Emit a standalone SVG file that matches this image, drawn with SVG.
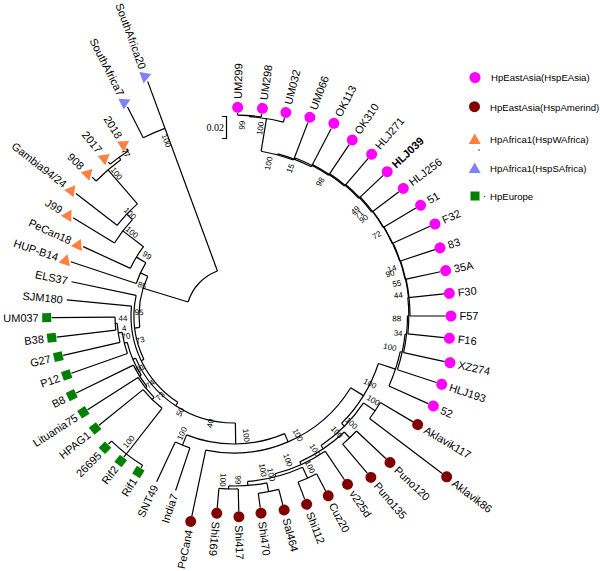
<svg xmlns="http://www.w3.org/2000/svg" xmlns:xlink="http://www.w3.org/1999/xlink" width="600" height="571" viewBox="0 0 600 571">
<style>
.t path,.t circle{fill:none;stroke:#000;stroke-width:1.2}
.lab{font-family:"Liberation Sans",Arial,sans-serif;font-size:11px;fill:#000}
.lg{font-family:"Liberation Sans",Arial,sans-serif;font-size:9.6px;fill:#000}
.bs{font-family:"Liberation Sans",Arial,sans-serif;font-size:8px;fill:#000;text-anchor:middle}
.ea{fill:#FF00FF}.am{fill:#800000}.wa{fill:#FF8040}.sa{fill:#8080FF}.eu{fill:#008000}
</style>
<defs>
<path id="tri" d="M0 -6L6 4.5H-6Z"/>
<rect id="sq" x="-4.5" y="-4.5" width="9" height="9"/>
</defs>
<rect width="600" height="571" fill="#fff"/>
<g transform="translate(234 316)">
<g id="connectors" class="t">
<circle r="48" pathLength="360" stroke-dasharray="52.8 360" transform="rotate(197)"/>
<path d="M48 0H95" transform="rotate(197)"/>
<path d="M48 0H200" transform="rotate(249.8)"/>
<circle r="200" pathLength="360" stroke-dasharray="6.8 360" transform="rotate(243)"/>
<path d="M200 0H234.5" transform="rotate(243)"/>
<path d="M200 0H250" transform="rotate(249.8)"/>
<circle r="196" pathLength="360" stroke-dasharray="6.6 360" transform="rotate(230.8)"/>
<path d="M196 0H198.7" transform="rotate(230.8)"/>
<path d="M196 0H198.5" transform="rotate(237.4)"/>
<circle r="193" pathLength="360" stroke-dasharray="9.7 360" transform="rotate(224.4)"/>
<path d="M193 0H196" transform="rotate(234.1)"/>
<path d="M193 0H198.5" transform="rotate(224.4)"/>
<circle r="148" pathLength="360" stroke-dasharray="11.45 360" transform="rotate(217.8)"/>
<path d="M148 0H193" transform="rotate(229.25)"/>
<path d="M148 0H200" transform="rotate(217.8)"/>
<circle r="140" pathLength="360" stroke-dasharray="12.1 360" transform="rotate(211.4)"/>
<path d="M140 0H148" transform="rotate(223.5)"/>
<path d="M140 0H188.5" transform="rotate(211.4)"/>
<circle r="114" pathLength="360" stroke-dasharray="12.75 360" transform="rotate(204.7)"/>
<path d="M114 0H140" transform="rotate(217.45)"/>
<path d="M114 0H166" transform="rotate(204.7)"/>
<circle r="103" pathLength="360" stroke-dasharray="12.7 360" transform="rotate(198.4)"/>
<path d="M103 0H114" transform="rotate(211.1)"/>
<path d="M103 0H172" transform="rotate(198.4)"/>
<circle r="95" pathLength="360" stroke-dasharray="31.66 360" transform="rotate(173.09)"/>
<path d="M95 0H103" transform="rotate(204.75)"/>
<path d="M95 0H100" transform="rotate(173.09)"/>
<circle r="100" pathLength="360" stroke-dasharray="37.63 360" transform="rotate(154.27)"/>
<path d="M100 0H166" transform="rotate(191.9)"/>
<path d="M100 0H103" transform="rotate(154.27)"/>
<circle r="103" pathLength="360" stroke-dasharray="62.47 360" transform="rotate(123.03)"/>
<path d="M103 0H168" transform="rotate(185.5)"/>
<path d="M103 0H107" transform="rotate(123.03)"/>
<circle r="107" pathLength="360" stroke-dasharray="67.55 360" transform="rotate(89.25)"/>
<path d="M107 0H110" transform="rotate(156.8)"/>
<path d="M107 0H128" transform="rotate(89.25)"/>
<circle r="110" pathLength="360" stroke-dasharray="18.67 360" transform="rotate(147.47)"/>
<path d="M110 0H112" transform="rotate(147.47)"/>
<path d="M110 0H113" transform="rotate(166.14)"/>
<circle r="112" pathLength="360" stroke-dasharray="13.06 360" transform="rotate(140.94)"/>
<path d="M112 0H114" transform="rotate(140.94)"/>
<path d="M112 0H175.5" transform="rotate(154)"/>
<circle r="114" pathLength="360" stroke-dasharray="12.92 360" transform="rotate(134.48)"/>
<path d="M114 0H117" transform="rotate(134.48)"/>
<path d="M114 0H173.8" transform="rotate(147.4)"/>
<circle r="117" pathLength="360" stroke-dasharray="13.05 360" transform="rotate(127.95)"/>
<path d="M117 0H175" transform="rotate(127.95)"/>
<path d="M117 0H173.7" transform="rotate(141)"/>
<circle r="175" pathLength="360" stroke-dasharray="12.9 360" transform="rotate(121.5)"/>
<path d="M175 0H178" transform="rotate(121.5)"/>
<path d="M175 0H179" transform="rotate(128)"/>
<path d="M175 0H179.4" transform="rotate(134.4)"/>
<circle r="113" pathLength="360" stroke-dasharray="11.08 360" transform="rotate(160.6)"/>
<path d="M113 0H172.4" transform="rotate(160.6)"/>
<path d="M113 0H117" transform="rotate(171.68)"/>
<circle r="117" pathLength="360" stroke-dasharray="9.35 360" transform="rotate(167)"/>
<path d="M117 0H175.3" transform="rotate(167)"/>
<path d="M117 0H119" transform="rotate(176.35)"/>
<circle r="119" pathLength="360" stroke-dasharray="6.3 360" transform="rotate(173.2)"/>
<path d="M119 0H178.6" transform="rotate(173.2)"/>
<path d="M119 0H182.3" transform="rotate(179.5)"/>
<circle r="128" pathLength="360" stroke-dasharray="45 360" transform="rotate(66.75)"/>
<path d="M128 0H137" transform="rotate(66.75)"/>
<path d="M128 0H139" transform="rotate(111.75)"/>
<circle r="139" pathLength="360" stroke-dasharray="6.5 360" transform="rotate(108.5)"/>
<path d="M139 0H184" transform="rotate(108.5)"/>
<path d="M139 0H183" transform="rotate(115)"/>
<circle r="137" pathLength="360" stroke-dasharray="70.31 360" transform="rotate(31.59)"/>
<path d="M137 0H152" transform="rotate(31.59)"/>
<path d="M137 0H204.5" transform="rotate(101.9)"/>
<circle r="152" pathLength="360" stroke-dasharray="26.76 360" transform="rotate(18.21)"/>
<path d="M152 0H170" transform="rotate(18.21)"/>
<path d="M152 0H156" transform="rotate(44.97)"/>
<circle r="156" pathLength="360" stroke-dasharray="22.24 360" transform="rotate(33.85)"/>
<path d="M156 0H170" transform="rotate(33.85)"/>
<path d="M156 0H160" transform="rotate(56.09)"/>
<circle r="170" pathLength="360" stroke-dasharray="6.5 360" transform="rotate(30.6)"/>
<path d="M170 0H208" transform="rotate(30.6)"/>
<path d="M170 0H261" transform="rotate(37.1)"/>
<circle r="160" pathLength="360" stroke-dasharray="19.28 360" transform="rotate(46.45)"/>
<path d="M160 0H168" transform="rotate(46.45)"/>
<path d="M160 0H163" transform="rotate(65.73)"/>
<circle r="168" pathLength="360" stroke-dasharray="6.5 360" transform="rotate(43.2)"/>
<path d="M168 0H208.5" transform="rotate(43.2)"/>
<path d="M168 0H206" transform="rotate(49.7)"/>
<circle r="163" pathLength="360" stroke-dasharray="19.47 360" transform="rotate(56)"/>
<path d="M163 0H197.5" transform="rotate(56)"/>
<path d="M163 0H166" transform="rotate(75.47)"/>
<circle r="166" pathLength="360" stroke-dasharray="19.73 360" transform="rotate(65.6)"/>
<path d="M166 0H178" transform="rotate(65.6)"/>
<path d="M166 0H170" transform="rotate(85.33)"/>
<circle r="178" pathLength="360" stroke-dasharray="6.55 360" transform="rotate(62.35)"/>
<path d="M178 0H197.5" transform="rotate(62.35)"/>
<path d="M178 0H196.3" transform="rotate(68.9)"/>
<circle r="170" pathLength="360" stroke-dasharray="12.95 360" transform="rotate(78.85)"/>
<path d="M170 0H179" transform="rotate(78.85)"/>
<path d="M170 0H173" transform="rotate(91.8)"/>
<circle r="179" pathLength="360" stroke-dasharray="6.7 360" transform="rotate(75.5)"/>
<path d="M179 0H195" transform="rotate(75.5)"/>
<path d="M179 0H193.5" transform="rotate(82.2)"/>
<circle r="173" pathLength="360" stroke-dasharray="6.4 360" transform="rotate(88.6)"/>
<path d="M173 0H195.3" transform="rotate(88.6)"/>
<path d="M173 0H192.5" transform="rotate(95)"/>
<circle r="170" pathLength="360" stroke-dasharray="12.17 360" transform="rotate(12.13)"/>
<path d="M170 0H213" transform="rotate(24.3)"/>
<path d="M170 0H172" transform="rotate(12.13)"/>
<circle r="172" pathLength="360" stroke-dasharray="12.14 360" transform="rotate(6.06)"/>
<path d="M172 0H213" transform="rotate(18.2)"/>
<path d="M172 0H173.5" transform="rotate(6.06)"/>
<circle r="173.5" pathLength="360" stroke-dasharray="12.29 360" transform="rotate(-0.09)"/>
<path d="M173.5 0H215.5" transform="rotate(12.2)"/>
<path d="M173.5 0H174.8" transform="rotate(-0.09)"/>
<circle r="174.8" pathLength="360" stroke-dasharray="11.98 360" transform="rotate(-6.08)"/>
<path d="M174.8 0H211" transform="rotate(5.9)"/>
<path d="M174.8 0H176" transform="rotate(-6.08)"/>
<circle r="176" pathLength="360" stroke-dasharray="12.16 360" transform="rotate(-12.16)"/>
<path d="M176 0H211.5"/>
<path d="M175.5 0H176" transform="rotate(-12.16)"/>
<circle r="175.5" pathLength="360" stroke-dasharray="12.32 360" transform="rotate(-18.32)"/>
<path d="M175.5 0H211" transform="rotate(-6)"/>
<path d="M175 0H175.5" transform="rotate(-18.32)"/>
<circle r="175" pathLength="360" stroke-dasharray="12.43 360" transform="rotate(-24.53)"/>
<path d="M175 0H211" transform="rotate(-12.1)"/>
<path d="M174.5 0H175" transform="rotate(-24.53)"/>
<circle r="174.5" pathLength="360" stroke-dasharray="12.46 360" transform="rotate(-30.76)"/>
<path d="M174.5 0H211.5" transform="rotate(-18.3)"/>
<path d="M174 0H174.5" transform="rotate(-30.76)"/>
<circle r="174" pathLength="360" stroke-dasharray="12.41 360" transform="rotate(-37.01)"/>
<path d="M174 0H215.5" transform="rotate(-24.6)"/>
<path d="M173.5 0H174" transform="rotate(-37.01)"/>
<circle r="173.5" pathLength="360" stroke-dasharray="12.63 360" transform="rotate(-43.33)"/>
<path d="M173.5 0H211.5" transform="rotate(-30.7)"/>
<path d="M172.5 0H173.5" transform="rotate(-43.33)"/>
<circle r="172.5" pathLength="360" stroke-dasharray="12.655 360" transform="rotate(-49.655)"/>
<path d="M172.5 0H206.5" transform="rotate(-37)"/>
<path d="M171.5 0H172.5" transform="rotate(-49.655)"/>
<circle r="171.5" pathLength="360" stroke-dasharray="12.71 360" transform="rotate(-56.01)"/>
<path d="M171.5 0H205" transform="rotate(-43.3)"/>
<path d="M170.5 0H171.5" transform="rotate(-56.01)"/>
<circle r="170.5" pathLength="360" stroke-dasharray="12.82 360" transform="rotate(-62.42)"/>
<path d="M170.5 0H207" transform="rotate(-49.6)"/>
<path d="M169.5 0H170.5" transform="rotate(-62.42)"/>
<circle r="169.5" pathLength="360" stroke-dasharray="12.64 360" transform="rotate(-68.74)"/>
<path d="M169.5 0H206.5" transform="rotate(-56.1)"/>
<path d="M168 0H169.5" transform="rotate(-68.74)"/>
<circle r="168" pathLength="360" stroke-dasharray="12.275 360" transform="rotate(-74.875)"/>
<path d="M168 0H211" transform="rotate(-62.6)"/>
<path d="M167 0H168" transform="rotate(-74.875)"/>
<circle r="167" pathLength="360" stroke-dasharray="11.55 360" transform="rotate(-80.65)"/>
<path d="M167 0H207" transform="rotate(-69.1)"/>
<path d="M167 0H200" transform="rotate(-80.65)"/>
<circle r="200" pathLength="360" stroke-dasharray="9.9 360" transform="rotate(-85.6)"/>
<path d="M200 0H204.5" transform="rotate(-75.7)"/>
<path d="M200 0H201" transform="rotate(-85.6)"/>
<circle r="201" pathLength="360" stroke-dasharray="6.8 360" transform="rotate(-89)"/>
<path d="M201 0H203" transform="rotate(-89)"/>
<path d="M201 0H204" transform="rotate(-82.2)"/>
</g>
<g id="bootstrap" class="bs">
<text transform="rotate(-87.7) translate(191)" y="3">99</text>
<text transform="rotate(-82.1) translate(189.5)" y="3">100</text>
<text transform="rotate(-77.3) translate(156.5)" y="3">100</text>
<text transform="rotate(-69.2) translate(158)" y="3">15</text>
<text transform="rotate(-57.4) translate(159.5)" y="3">98</text>
<text transform="rotate(-41.2) translate(161)" y="3">49</text>
<text transform="rotate(-39.2) translate(161)" y="3">71</text>
<text transform="rotate(-37) translate(162)" y="3">90</text>
<text transform="rotate(-29.6) translate(164)" y="3">72</text>
<text transform="rotate(-16.8) translate(164.8)" y="3">14</text>
<text transform="rotate(-15.3) translate(161.7)" y="3">90</text>
<text transform="rotate(-11.4) translate(166)" y="3">55</text>
<text transform="rotate(-7.3) translate(165.6)" y="3">44</text>
<text transform="rotate(0.8) translate(162.7)" y="3">88</text>
<text transform="rotate(5.9) translate(165)" y="3">34</text>
<text transform="rotate(11.2) translate(159)" y="3">100</text>
<text transform="rotate(26.3) translate(151.7)" y="3">100</text>
<text transform="rotate(31.1) translate(162.7)" y="3">100</text>
<text transform="rotate(42.3) translate(159)" y="3">100</text>
<text transform="rotate(48.4) translate(155)" y="3">100</text>
<text transform="rotate(58.8) translate(156.6)" y="3">100</text>
<text transform="rotate(61.7) translate(135)" y="3">100</text>
<text transform="rotate(69.4) translate(153.8)" y="3">100</text>
<text transform="rotate(63.2) translate(168.8)" y="3">100</text>
<text transform="rotate(79.3) translate(156.7)" y="3">100</text>
<text transform="rotate(76.7) translate(163)" y="3">100</text>
<text transform="rotate(84) translate(120)" y="3">100</text>
<text transform="rotate(93.7) translate(164.3)" y="3">100</text>
<text transform="rotate(88.5) translate(164)" y="3">99</text>
<text transform="rotate(102.6) translate(110) rotate(180)" y="3">40</text>
<text transform="rotate(119.4) translate(110) rotate(180)" y="3">50</text>
<text transform="rotate(114) translate(128.5) rotate(180)" y="3">100</text>
<text transform="rotate(130) translate(164) rotate(180)" y="3">100</text>
<text transform="rotate(132.8) translate(109) rotate(180)" y="3">73</text>
<text transform="rotate(141) translate(108) rotate(180)" y="3">74</text>
<text transform="rotate(151) translate(107) rotate(180)" y="3">91</text>
<text transform="rotate(165.7) translate(97) rotate(180)" y="3">73</text>
<text transform="rotate(182.4) translate(95) rotate(180)" y="3">95</text>
<text transform="rotate(169.5) translate(110) rotate(180)" y="3">70</text>
<text transform="rotate(173.8) translate(110.6) rotate(180)" y="3">4</text>
<text transform="rotate(179) translate(111) rotate(180)" y="3">44</text>
<text transform="rotate(198.6) translate(97) rotate(180)" y="3">85</text>
<text transform="rotate(215) translate(106) rotate(180)" y="3">99</text>
<text transform="rotate(219.5) translate(132) rotate(180)" y="3">100</text>
<text transform="rotate(224.7) translate(146) rotate(180)" y="3">100</text>
<text transform="rotate(230.6) translate(184.7) rotate(180)" y="3">100</text>
<text transform="rotate(236.5) translate(195.6) rotate(180)" y="3">77</text>
<text transform="rotate(249) translate(188) rotate(180)" y="3">100</text>
</g>
<g id="n-UM299"><circle class="ea" r="5.5" transform="rotate(-89) translate(208.7)"/><text class="lab" transform="rotate(-89)" x="217.2" y="4">UM299</text></g>
<g id="n-UM298"><circle class="ea" r="5.5" transform="rotate(-82.2) translate(209.6)"/><text class="lab" transform="rotate(-82.2)" x="218.1" y="4">UM298</text></g>
<g id="n-UM032"><circle class="ea" r="5.5" transform="rotate(-75.7) translate(210)"/><text class="lab" transform="rotate(-75.7)" x="218.5" y="4">UM032</text></g>
<g id="n-UM066"><circle class="ea" r="5.5" transform="rotate(-69.1) translate(212.7)"/><text class="lab" transform="rotate(-69.1)" x="221.2" y="4">UM066</text></g>
<g id="n-OK113"><circle class="ea" r="5.5" transform="rotate(-62.6) translate(217)"/><text class="lab" transform="rotate(-62.6)" x="225.5" y="4">OK113</text></g>
<g id="n-OK310"><circle class="ea" r="5.5" transform="rotate(-56.1) translate(212)"/><text class="lab" transform="rotate(-56.1)" x="220.5" y="4">OK310</text></g>
<g id="n-HLJ271"><circle class="ea" r="5.5" transform="rotate(-49.6) translate(212.4)"/><text class="lab" transform="rotate(-49.6)" x="221" y="4">HLJ271</text></g>
<g id="n-HLJ039"><circle class="ea" r="5.5" transform="rotate(-43.3) translate(210.5)"/><text class="lab" transform="rotate(-43.3)" x="219" y="4" font-weight="bold">HLJ039</text></g>
<g id="n-HLJ256"><circle class="ea" r="5.5" transform="rotate(-37) translate(212)"/><text class="lab" transform="rotate(-37)" x="220.5" y="4">HLJ256</text></g>
<g id="n-51"><circle class="ea" r="5.5" transform="rotate(-30.7) translate(217)"/><text class="lab" transform="rotate(-30.7)" x="225.5" y="4">51</text></g>
<g id="n-F32"><circle class="ea" r="5.5" transform="rotate(-24.6) translate(221)"/><text class="lab" transform="rotate(-24.6)" x="229.5" y="4">F32</text></g>
<g id="n-83"><circle class="ea" r="5.5" transform="rotate(-18.3) translate(217)"/><text class="lab" transform="rotate(-18.3)" x="225.5" y="4">83</text></g>
<g id="n-35A"><circle class="ea" r="5.5" transform="rotate(-12.1) translate(216.5)"/><text class="lab" transform="rotate(-12.1)" x="225" y="4">35A</text></g>
<g id="n-F30"><circle class="ea" r="5.5" transform="rotate(-6) translate(216.5)"/><text class="lab" transform="rotate(-6)" x="225" y="4">F30</text></g>
<g id="n-F57"><circle class="ea" r="5.5" transform="translate(217)"/><text class="lab" x="225.5" y="4">F57</text></g>
<g id="n-F16"><circle class="ea" r="5.5" transform="rotate(5.9) translate(216.5)"/><text class="lab" transform="rotate(5.9)" x="225" y="4">F16</text></g>
<g id="n-XZ274"><circle class="ea" r="5.5" transform="rotate(12.2) translate(221)"/><text class="lab" transform="rotate(12.2)" x="229.5" y="4">XZ274</text></g>
<g id="n-HLJ193"><circle class="ea" r="5.5" transform="rotate(18.2) translate(218.6)"/><text class="lab" transform="rotate(18.2)" x="227" y="4">HLJ193</text></g>
<g id="n-52"><circle class="ea" r="5.5" transform="rotate(24.3) translate(218.7)"/><text class="lab" transform="rotate(24.3)" x="227.2" y="4">52</text></g>
<g id="n-Aklavik117"><circle class="am" r="5.5" transform="rotate(30.6) translate(213.4)"/><text class="lab" transform="rotate(30.6)" x="222" y="4">Aklavik117</text></g>
<g id="n-Aklavik86"><circle class="am" r="5.5" transform="rotate(37.1) translate(266.6)"/><text class="lab" transform="rotate(37.1)" x="275" y="4">Aklavik86</text></g>
<g id="n-Puno120"><circle class="am" r="5.5" transform="rotate(43.2) translate(214)"/><text class="lab" transform="rotate(43.2)" x="222.5" y="4">Puno120</text></g>
<g id="n-Puno135"><circle class="am" r="5.5" transform="rotate(49.7) translate(211.6)"/><text class="lab" transform="rotate(49.7)" x="220" y="4">Puno135</text></g>
<g id="n-v225d"><circle class="am" r="5.5" transform="rotate(56) translate(203)"/><text class="lab" transform="rotate(56)" x="211.5" y="4">v225d</text></g>
<g id="n-Cuz20"><circle class="am" r="5.5" transform="rotate(62.35) translate(203)"/><text class="lab" transform="rotate(62.35)" x="211.5" y="4">Cuz20</text></g>
<g id="n-Shi112"><circle class="am" r="5.5" transform="rotate(68.9) translate(201.8)"/><text class="lab" transform="rotate(68.9)" x="210.3" y="4">Shi112</text></g>
<g id="n-Sal464"><circle class="am" r="5.5" transform="rotate(75.5) translate(200.4)"/><text class="lab" transform="rotate(75.5)" x="209" y="4">Sal464</text></g>
<g id="n-Shi470"><circle class="am" r="5.5" transform="rotate(82.2) translate(199)"/><text class="lab" transform="rotate(82.2)" x="207.5" y="4">Shi470</text></g>
<g id="n-Shi417"><circle class="am" r="5.5" transform="rotate(88.6) translate(200.8)"/><text class="lab" transform="rotate(88.6)" x="209.3" y="4">Shi417</text></g>
<g id="n-Shi169"><circle class="am" r="5.5" transform="rotate(95) translate(198)"/><text class="lab" transform="rotate(95)" x="206.5" y="4">Shi169</text></g>
<g id="n-PeCan4"><circle class="am" r="5.5" transform="rotate(101.9) translate(210)"/><text class="lab" transform="rotate(-78.1)" x="-218.5" y="4" text-anchor="end">PeCan4</text></g>
<g id="n-India7"><text class="lab" transform="rotate(-71.5)" x="-188" y="4" text-anchor="end">India7</text></g>
<g id="n-SNT49"><text class="lab" transform="rotate(-65)" x="-187" y="4" text-anchor="end">SNT49</text></g>
<g id="n-Rif1"><use href="#sq" class="eu" transform="rotate(121.5) translate(183)"/><text class="lab" transform="rotate(-58.5)" x="-191" y="4" text-anchor="end">Rif1</text></g>
<g id="n-Rif2"><use href="#sq" class="eu" transform="rotate(128) translate(184)"/><text class="lab" transform="rotate(-52)" x="-192" y="4" text-anchor="end">Rif2</text></g>
<g id="n-26695"><use href="#sq" class="eu" transform="rotate(134.4) translate(184.4)"/><text class="lab" transform="rotate(-45.6)" x="-192.4" y="4" text-anchor="end">26695</text></g>
<g id="n-HPAG1"><use href="#sq" class="eu" transform="rotate(141) translate(178.7)"/><text class="lab" transform="rotate(-39)" x="-186.7" y="4" text-anchor="end">HPAG1</text></g>
<g id="n-Lituania75"><use href="#sq" class="eu" transform="rotate(147.4) translate(178.8)"/><text class="lab" transform="rotate(-32.6)" x="-186.8" y="4" text-anchor="end">Lituania75</text></g>
<g id="n-B8"><use href="#sq" class="eu" transform="rotate(154) translate(180.5)"/><text class="lab" transform="rotate(-26)" x="-188.5" y="4" text-anchor="end">B8</text></g>
<g id="n-P12"><use href="#sq" class="eu" transform="rotate(160.6) translate(177.4)"/><text class="lab" transform="rotate(-19.4)" x="-185.4" y="4" text-anchor="end">P12</text></g>
<g id="n-G27"><use href="#sq" class="eu" transform="rotate(167) translate(180.3)"/><text class="lab" transform="rotate(-13)" x="-188.3" y="4" text-anchor="end">G27</text></g>
<g id="n-B38"><use href="#sq" class="eu" transform="rotate(173.2) translate(183.6)"/><text class="lab" transform="rotate(-6.8)" x="-191.6" y="4" text-anchor="end">B38</text></g>
<g id="n-UM037"><use href="#sq" class="eu" transform="rotate(179.5) translate(187.3)"/><text class="lab" transform="rotate(-0.5)" x="-195.3" y="4" text-anchor="end">UM037</text></g>
<g id="n-SJM180"><text class="lab" transform="rotate(5.5)" x="-172" y="4" text-anchor="end">SJM180</text></g>
<g id="n-ELS37"><text class="lab" transform="rotate(11.9)" x="-170" y="4" text-anchor="end">ELS37</text></g>
<g id="n-HUP-B14"><use href="#tri" class="wa" transform="rotate(198.4) translate(177.4) rotate(-180)"/><text class="lab" transform="rotate(18.4)" x="-185.4" y="4" text-anchor="end">HUP-B14</text></g>
<g id="n-PeCan18"><use href="#tri" class="wa" transform="rotate(204.7) translate(171.4) rotate(-180)"/><text class="lab" transform="rotate(24.7)" x="-179.4" y="4" text-anchor="end">PeCan18</text></g>
<g id="n-J99"><use href="#tri" class="wa" transform="rotate(211.4) translate(194) rotate(-180)"/><text class="lab" transform="rotate(31.4)" x="-202" y="4" text-anchor="end">J99</text></g>
<g id="n-Gambia94-24"><use href="#tri" class="wa" transform="rotate(217.8) translate(205.5) rotate(-180)"/><text class="lab" transform="rotate(37.8)" x="-213.5" y="4" text-anchor="end">Gambia94/24</text></g>
<g id="n-908"><use href="#tri" class="wa" transform="rotate(224.4) translate(204) rotate(-180)"/><text class="lab" transform="rotate(44.4)" x="-212" y="4" text-anchor="end">908</text></g>
<g id="n-2017"><use href="#tri" class="wa" transform="rotate(230.8) translate(204.2) rotate(-180)"/><text class="lab" transform="rotate(50.8)" x="-212.2" y="4" text-anchor="end">2017</text></g>
<g id="n-2018"><use href="#tri" class="wa" transform="rotate(237.4) translate(204) rotate(-180)"/><text class="lab" transform="rotate(57.4)" x="-212" y="4" text-anchor="end">2018</text></g>
<g id="n-SouthAfrica7"><use href="#tri" class="sa" transform="rotate(243) translate(240) rotate(-180)"/><text class="lab" transform="rotate(63)" x="-248" y="4" text-anchor="end">SouthAfrica7</text></g>
<g id="n-SouthAfrica20"><use href="#tri" class="sa" transform="rotate(249.8) translate(255.7) rotate(-180)"/><text class="lab" transform="rotate(69.8)" x="-263.7" y="4" text-anchor="end">SouthAfrica20</text></g>
</g>
<g id="scale">
<path d="M222 116.5H226.5V138.5H222" fill="none" stroke="#000" stroke-width="1.2"/>
<text x="206.5" y="131" font-family="'Liberation Serif','Times New Roman',serif" font-size="10">0.02</text>
</g>
<g id="legend">
<g id="lg-easia"><circle class="ea" cx="475" cy="77.5" r="5.5"/><text class="lg" x="491" y="81">HpEastAsia(HspEAsia)</text></g>
<g id="lg-amerind"><circle class="am" cx="474.5" cy="106.7" r="5.5"/><text class="lg" x="490" y="110.5">HpEastAsia(HspAmerind)</text></g>
<g id="lg-wafrica"><use href="#tri" class="wa" transform="translate(474.7 139.5)"/><circle cx="479" cy="150" r="0.8" fill="#333"/><text class="lg" x="490" y="143">HpAfrica1(HspWAfrica)</text></g>
<g id="lg-safrica"><use href="#tri" class="sa" transform="translate(474.7 168.5)"/><text class="lg" x="490" y="172">HpAfrica1(HspSAfrica)</text></g>
<g id="lg-europe"><use href="#sq" class="eu" transform="translate(475 196)"/><circle cx="484.5" cy="196.5" r="0.8" fill="#555"/><text class="lg" x="490" y="200">HpEurope</text></g>
</g>
</svg>
